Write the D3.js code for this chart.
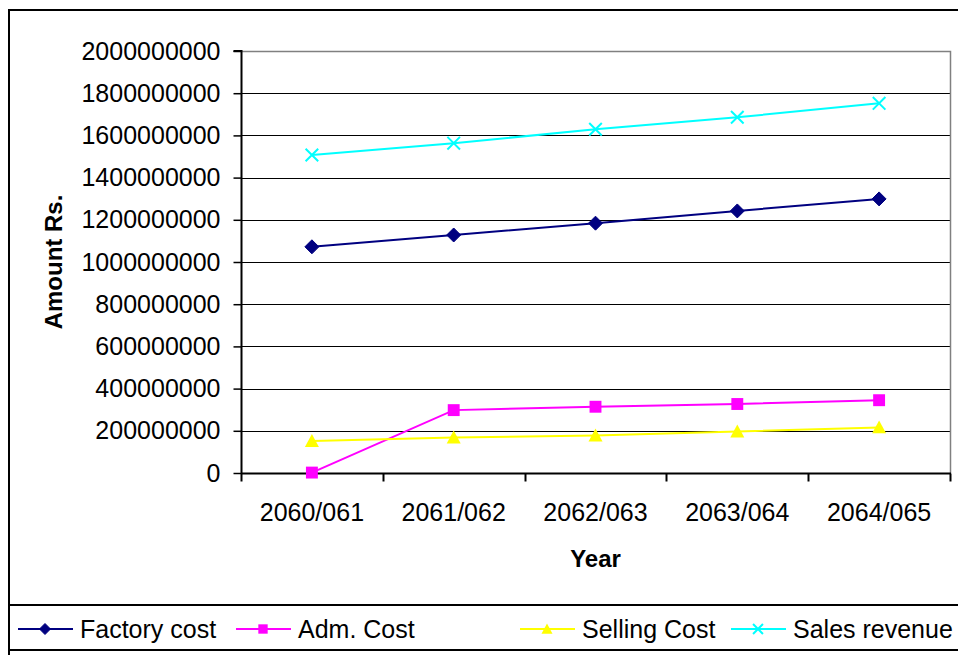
<!DOCTYPE html>
<html>
<head>
<meta charset="utf-8">
<script src="https://cdn.jsdelivr.net/npm/d3@7"></script>
<style>
  html, body { margin: 0; padding: 0; background: #fff; }
  svg { display: block; font-family: "Liberation Sans", Arial, sans-serif; }
</style>
</head>
<body>
<svg id="chart" width="958" height="655"></svg>
<script>
// Fiscal years (Nepali calendar)
const years = ["2060/061", "2061/062", "2062/063", "2063/064", "2064/065"];

// Amounts in Rs.
const factoryCost  = [1072000000, 1128000000, 1184000000, 1242000000, 1299000000];
const admCost      = [2000000, 298000000, 314000000, 327000000, 345000000];
const sellingCost  = [152000000, 168000000, 178000000, 197000000, 216000000];
const salesRevenue = [1507000000, 1563000000, 1629000000, 1686000000, 1752000000];

const yTicks = [0, 200000000, 400000000, 600000000, 800000000, 1000000000,
                1200000000, 1400000000, 1600000000, 1800000000, 2000000000];

const seriesNames  = ["Factory cost", "Adm. Cost", "Selling Cost", "Sales revenue"];
const seriesColors = ["#000080", "#FF00FF", "#FFFF00", "#00FFFF"];
const seriesShapes = ["diamond", "square", "triangle", "cross"];
const seriesValues = [factoryCost, admCost, sellingCost, salesRevenue];

const svg = d3.select("#chart");

// Chart frame
svg.append("rect")
  .attr("x", 9).attr("y", 10).attr("width", 960).attr("height", 660)
  .attr("fill", "#fff").attr("stroke", "#000").attr("stroke-width", 2);

const plot = { left: 241, right: 950, top: 51, bottom: 473 };

const x = d3.scaleBand().domain(years).range([plot.left, plot.right]);
const y = d3.scaleLinear().domain([0, 2000000000]).range([plot.bottom, plot.top]);

const g = svg.append("g");

// Horizontal gridlines
g.selectAll("line.grid")
  .data(yTicks.filter(v => v > 0 && v < 2000000000))
  .join("line")
  .attr("class", "grid")
  .attr("x1", plot.left).attr("x2", plot.right)
  .attr("y1", d => Math.round(y(d)) + 0.5).attr("y2", d => Math.round(y(d)) + 0.5)
  .attr("stroke", "#000").attr("stroke-width", 1.2);

// Plot area border (top and right)
g.append("path")
  .attr("d", `M${plot.left},${Math.round(y(2000000000)) + 0.5}H${plot.right + 0.5}V${plot.bottom}`)
  .attr("fill", "none").attr("stroke", "#808080").attr("stroke-width", 1.5);

// Y axis
const yAxis = d3.axisLeft(y)
  .tickValues(yTicks)
  .tickFormat(d3.format("d"))
  .tickSize(8)
  .tickPadding(13);

const yG = svg.append("g")
  .attr("transform", `translate(${plot.left + 0.5},0)`)
  .call(yAxis);
yG.select(".domain").attr("stroke", "#000").attr("stroke-width", 2)
  .attr("d", `M-8,${plot.top}H0V${plot.bottom}`);
yG.selectAll(".tick line").attr("stroke", "#000").attr("stroke-width", 1.5);
yG.selectAll(".tick text")
  .attr("font-size", 25).attr("fill", "#000")
  .attr("font-family", "Liberation Sans, Arial, sans-serif");

// X axis: labels centred on categories, tick marks between categories
const xAxis = d3.axisBottom(x).tickSize(0).tickPadding(30);
const xG = svg.append("g")
  .attr("transform", `translate(0,${plot.bottom + 0.5})`)
  .call(xAxis);
xG.select(".domain").attr("stroke", "#000").attr("stroke-width", 2)
  .attr("d", `M${plot.left},0H${plot.right + 1}`);
xG.selectAll(".tick text")
  .attr("font-size", 25).attr("fill", "#000")
  .attr("font-family", "Liberation Sans, Arial, sans-serif");

const boundaries = years.map(c => x(c)).concat([x.range()[1]]);
xG.selectAll("line.sep")
  .data(boundaries)
  .join("line")
  .attr("class", "sep")
  .attr("x1", d => Math.round(d) + 0.5).attr("x2", d => Math.round(d) + 0.5)
  .attr("y1", 0).attr("y2", 8)
  .attr("stroke", "#000").attr("stroke-width", 2);

// Axis titles
svg.append("text")
  .attr("x", (plot.left + plot.right) / 2).attr("y", 567)
  .attr("text-anchor", "middle")
  .attr("font-size", 24).attr("font-weight", "bold")
  .text("Year");

svg.append("text")
  .attr("transform", `translate(62,${(plot.top + plot.bottom) / 2}) rotate(-90)`)
  .attr("text-anchor", "middle")
  .attr("font-size", 24).attr("font-weight", "bold")
  .text("Amount Rs.");

// Marker drawing
function drawMarker(sel, shape, color, s) {
  if (shape === "diamond") {
    sel.append("path")
      .attr("d", `M0,${-s}L${s},0L0,${s}L${-s},0Z`)
      .attr("fill", color).attr("stroke", color).attr("stroke-width", 1);
  } else if (shape === "square") {
    sel.append("rect")
      .attr("x", -s * 0.85).attr("y", -s * 0.85)
      .attr("width", s * 1.7).attr("height", s * 1.7)
      .attr("fill", color);
  } else if (shape === "triangle") {
    sel.append("path")
      .attr("d", `M0,${-s}L${s},${s * 0.85}L${-s},${s * 0.85}Z`)
      .attr("fill", color);
  } else if (shape === "cross") {
    sel.append("path")
      .attr("d", `M${-s * 0.9},${-s * 0.9}L${s * 0.9},${s * 0.9}M${-s * 0.9},${s * 0.9}L${s * 0.9},${-s * 0.9}`)
      .attr("fill", "none").attr("stroke", color).attr("stroke-width", 2);
  }
}

const cx = c => x(c) + x.bandwidth() / 2;
const line = d3.line().x(d => cx(d.year)).y(d => y(d.value));

seriesValues.forEach((vals, i) => {
  const pts = years.map((yr, j) => ({ year: yr, value: vals[j] }));
  svg.append("path")
    .datum(pts)
    .attr("d", line)
    .attr("fill", "none")
    .attr("stroke", seriesColors[i])
    .attr("stroke-width", 2);
  svg.append("g").selectAll("g")
    .data(pts)
    .join("g")
    .attr("transform", d => `translate(${cx(d.year)},${y(d.value)})`)
    .each(function () {
      drawMarker(d3.select(this), seriesShapes[i], seriesColors[i], 7);
    });
});

// Legend
svg.append("rect")
  .attr("x", 9).attr("y", 605).attr("width", 960).attr("height", 45)
  .attr("fill", "#fff").attr("stroke", "#000").attr("stroke-width", 2);

const legendX = [18, 236, 520, 731];
seriesNames.forEach((name, i) => {
  const lg = svg.append("g").attr("transform", `translate(${legendX[i]},629)`);
  lg.append("line")
    .attr("x1", 0).attr("x2", 55).attr("y1", 0).attr("y2", 0)
    .attr("stroke", seriesColors[i]).attr("stroke-width", 2);
  const m = lg.append("g").attr("transform", "translate(27,0)");
  drawMarker(m, seriesShapes[i], seriesColors[i], 5.5);
  lg.append("text")
    .attr("x", 62).attr("y", 9)
    .attr("font-size", 25).attr("fill", "#000")
    .text(name);
});
</script>
</body>
</html>
